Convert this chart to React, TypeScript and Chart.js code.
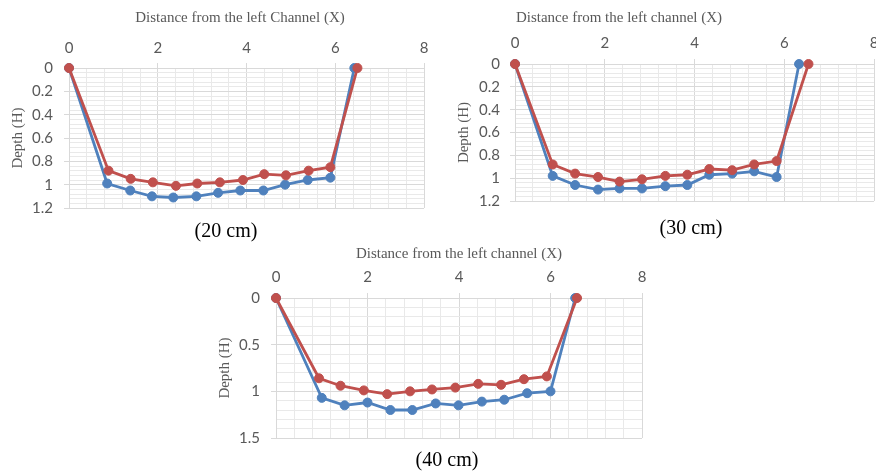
import React, { useEffect, useRef } from "react";
import { Chart, registerables } from "chart.js";

Chart.register(...registerables);

// ---- data ----
const xBlue20 = [0, 0.86, 1.38, 1.87, 2.35, 2.87, 3.36, 3.86, 4.38, 4.87, 5.38, 5.89, 6.43];
const yBlue20 = [0, 0.99, 1.05, 1.1, 1.11, 1.1, 1.07, 1.05, 1.05, 1.0, 0.96, 0.94, 0];
const xRed20 = [0, 0.89, 1.39, 1.89, 2.41, 2.89, 3.4, 3.92, 4.4, 4.89, 5.4, 5.89, 6.5];
const yRed20 = [0, 0.88, 0.95, 0.98, 1.01, 0.99, 0.98, 0.96, 0.91, 0.92, 0.88, 0.85, 0];

const xBlue30 = [0, 0.84, 1.34, 1.85, 2.33, 2.83, 3.35, 3.84, 4.33, 4.84, 5.33, 5.83, 6.33];
const yBlue30 = [0, 0.98, 1.06, 1.1, 1.09, 1.09, 1.07, 1.06, 0.97, 0.96, 0.94, 0.99, 0];
const xRed30 = [0, 0.84, 1.34, 1.85, 2.33, 2.83, 3.35, 3.84, 4.33, 4.84, 5.33, 5.83, 6.54];
const yRed30 = [0, 0.88, 0.96, 0.99, 1.03, 1.01, 0.98, 0.97, 0.92, 0.93, 0.88, 0.85, 0];

const xBlue40 = [0, 1.0, 1.5, 2.0, 2.5, 2.98, 3.49, 3.99, 4.5, 4.99, 5.49, 6.0, 6.54];
const yBlue40 = [0, 1.07, 1.15, 1.12, 1.2, 1.2, 1.13, 1.15, 1.11, 1.09, 1.02, 1.0, 0];
const xRed40 = [0, 0.94, 1.41, 1.92, 2.43, 2.93, 3.41, 3.92, 4.42, 4.92, 5.42, 5.92, 6.58];
const yRed40 = [0, 0.86, 0.94, 0.99, 1.03, 1.0, 0.98, 0.96, 0.92, 0.93, 0.87, 0.84, 0];

const xTitle20 = "Distance from the left Channel (X)";
const xTitle30 = "Distance from the left channel (X)";
const xTitle40 = "Distance from the left channel (X)";
const yTitle = "Depth (H)";
const caption20 = "(20 cm)";
const caption30 = "(30 cm)";
const caption40 = "(40 cm)";

const xMax = 8;
const xMajor = 2;
const xMinor = 0.4;

// ---- styles ----
const BLUE = "#4F81BD";
const RED = "#C0504D";
const MAJOR = "#d9d9d9";
const MINOR = "#e9e9e9";
const TEXT = "#595959";
const TICK_FONT = { family: "Lato, 'Open Sans', sans-serif", size: 15 };
const SERIF = "'Liberation Serif', 'DejaVu Serif', serif";

const zip = (xs: number[], ys: number[]) => xs.map((x, i) => ({ x, y: ys[i] }));
const isMult = (v: number, m: number) => Math.abs(v / m - Math.round(v / m)) < 1e-6;

type Cfg = {
  left: number; top: number; width: number; height: number;
  yW: number; xH: number; padR: number;
  yMax: number; yMajor: number; yMinor: number;
  xPad: number; yPad: number; yTitlePad: number;
  blue: { x: number; y: number }[]; red: { x: number; y: number }[];
};

function ChartBox({ cfg }: { cfg: Cfg }) {
  const ref = useRef<HTMLCanvasElement | null>(null);
  useEffect(() => {
    if (!ref.current) return;
    const line = (data: any, color: string) => ({
      data,
      borderColor: color,
      backgroundColor: color,
      pointBackgroundColor: color,
      pointBorderColor: color,
      pointRadius: 4.5,
      pointBorderWidth: 1,
      borderWidth: 2.8,
      tension: 0,
      fill: false,
      clip: false as any,
    });
    const chart = new Chart(ref.current, {
      type: "line",
      data: { datasets: [line(cfg.red, RED), line(cfg.blue, BLUE)] as any },
      options: {
        animation: false,
        responsive: false,
        devicePixelRatio: 1,
        layout: { padding: { left: 0, top: 0, right: cfg.padR, bottom: 0 } },
        plugins: { legend: { display: false }, tooltip: { enabled: false }, title: { display: false } },
        scales: {
          x: {
            type: "linear",
            position: "top",
            min: 0,
            max: xMax,
            afterFit: (s: any) => { s.height = cfg.xH; },
            ticks: {
              stepSize: xMinor,
              maxTicksLimit: 200,
              autoSkip: false,
              maxRotation: 0,
              padding: cfg.xPad,
              color: TEXT,
              font: TICK_FONT,
              callback: (v: any) => (isMult(Number(v), xMajor) ? String(Math.round(Number(v))) : ""),
            },
            grid: {
              tickLength: 5,
              color: (c: any) => (c.tick && isMult(c.tick.value, xMajor) ? MAJOR : MINOR),
              tickColor: (c: any) => (c.tick && isMult(c.tick.value, xMajor) ? MAJOR : "rgba(0,0,0,0)"),
            },
            border: { color: MAJOR },
          },
          y: {
            type: "linear",
            position: "left",
            reverse: true,
            min: 0,
            max: cfg.yMax,
            afterFit: (s: any) => { s.width = cfg.yW; },
            ticks: {
              stepSize: cfg.yMinor,
              maxTicksLimit: 200,
              autoSkip: false,
              padding: cfg.yPad,
              color: TEXT,
              font: TICK_FONT,
              callback: (v: any) =>
                isMult(Number(v), cfg.yMajor) ? String(Math.round(Number(v) * 10) / 10) : "",
            },
            grid: {
              tickLength: 5,
              color: (c: any) => (c.tick && isMult(c.tick.value, cfg.yMajor) ? MAJOR : MINOR),
              tickColor: (c: any) => (c.tick && isMult(c.tick.value, cfg.yMajor) ? MAJOR : "rgba(0,0,0,0)"),
            },
            border: { color: MAJOR },
            title: {
              display: true,
              text: yTitle,
              color: TEXT,
              font: { family: SERIF, size: 15 },
              padding: { top: cfg.yTitlePad, bottom: 0 },
            },
          },
        },
      },
    });
    return () => chart.destroy();
  }, [cfg]);
  return (
    <canvas
      ref={ref}
      width={cfg.width}
      height={cfg.height}
      style={{ position: "absolute", left: cfg.left, top: cfg.top, width: cfg.width, height: cfg.height, display: "block" }}
    />
  );
}

// bottom space below plot = label half-height (9) + tick padding
const cfg20: Cfg = {
  left: 0, top: 0, width: 440, height: 228, yW: 69, xH: 68, padR: 16,
  yMax: 1.2, yMajor: 0.2, yMinor: 0.04, xPad: 6, yPad: 11, yTitlePad: 9,
  blue: zip(xBlue20, yBlue20), red: zip(xRed20, yRed20),
};
const cfg30: Cfg = {
  left: 440, top: 0, width: 450, height: 220, yW: 75, xH: 64, padR: 16,
  yMax: 1.2, yMajor: 0.2, yMinor: 0.04, xPad: 7, yPad: 10, yTitlePad: 15,
  blue: zip(xBlue30, yBlue30), red: zip(xRed30, yRed30),
};
const cfg40: Cfg = {
  left: 200, top: 240, width: 458, height: 218, yW: 76, xH: 58, padR: 16,
  yMax: 1.5, yMajor: 0.5, yMinor: 0.1, xPad: 7, yPad: 11, yTitlePad: 16,
  blue: zip(xBlue40, yBlue40), red: zip(xRed40, yRed40),
};

function Label({ x, y, text, size, color }: { x: number; y: number; text: string; size: number; color: string }) {
  return (
    <div
      style={{
        position: "absolute", left: x, top: y, transform: "translate(-50%, -50%)",
        fontFamily: SERIF, fontSize: size, color, whiteSpace: "nowrap", lineHeight: 1,
      }}
    >
      {text}
    </div>
  );
}

export default function App() {
  return (
    <div style={{ position: "fixed", left: 0, top: 0, width: 876, height: 472, overflow: "hidden", background: "#fff" }}>
      <ChartBox cfg={cfg20} />
      <ChartBox cfg={cfg30} />
      <ChartBox cfg={cfg40} />
      <Label x={240} y={17} text={xTitle20} size={15} color={TEXT} />
      <Label x={619} y={17} text={xTitle30} size={15} color={TEXT} />
      <Label x={459} y={253} text={xTitle40} size={15} color={TEXT} />
      <Label x={226} y={230} text={caption20} size={20} color="#000" />
      <Label x={691} y={227} text={caption30} size={20} color="#000" />
      <Label x={447} y={459} text={caption40} size={20} color="#000" />
    </div>
  );
}
